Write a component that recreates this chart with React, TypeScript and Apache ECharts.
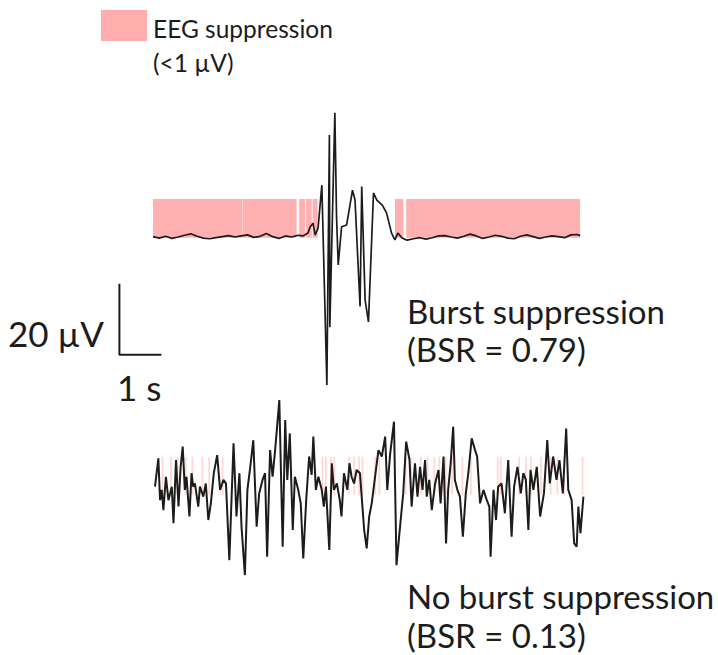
import React, { useEffect, useRef } from "react";
import * as echarts from "echarts";

// ---- Data (time in s, amplitude in µV) ----
const burstTrace: [number, number][] = [
  [0, 0.1], [0.15, -0.3], [0.3, 0.2], [0.45, -0.4], [0.6, 0.0], [0.75, 0.5], [0.9, 0.9],
  [1.05, 0.2], [1.2, -0.3], [1.35, -0.5], [1.5, -0.2], [1.65, 0.1], [1.8, 0.4], [1.95, 0.0],
  [2.1, 0.3], [2.25, 0.6], [2.4, -0.1], [2.55, 0.2], [2.7, 1.0], [2.85, 0.1], [3.0, -0.4],
  [3.15, 0.3], [3.3, 0.0], [3.45, 0.5], [3.57, 0.3],
  [3.69, 1.1], [3.74, 2.8], [3.81, 3.9], [3.86, 0.6], [3.93, 2.5], [4.02, 14.6], [4.14, -41.7],
  [4.2, 28.7], [4.21, -25.4], [4.33, 35.0], [4.37, 5.7], [4.41, -7.9], [4.49, 2.9], [4.61, 3.4],
  [4.75, 13.2], [4.81, 10.4], [4.93, -19.6], [4.97, 14.2], [5.05, -17.7], [5.13, -23.9],
  [5.25, 12.4], [5.33, 10.4], [5.46, 9.0], [5.56, 6.8], [5.68, 1.1], [5.76, -0.8], [5.83, 1.1],
  [5.93, -0.3], [6.05, -0.9], [6.2, -0.5], [6.35, -0.2], [6.5, -0.6], [6.65, -0.2], [6.8, 0.3],
  [6.95, 0.4], [7.1, 0.0], [7.25, -0.3], [7.4, 0.2], [7.55, 0.8], [7.7, 0.3], [7.85, -0.4],
  [8.0, 0.0], [8.15, 0.5], [8.3, 0.2], [8.45, -0.3], [8.6, -0.5], [8.75, 0.2], [8.9, 0.6],
  [9.05, 0.1], [9.2, -0.4], [9.35, 0.0], [9.5, 0.3], [9.65, 0.1], [9.8, -0.2], [9.95, 0.6],
  [10.1, 0.7], [10.17, 0.4],
];

const continuousTrace: [number, number][] = [
  [0, 1.5], [0.08, 9.5], [0.12, -2.3], [0.16, 0.6], [0.2, -5.1], [0.26, 4.3], [0.32, -2.3],
  [0.4, 1.5], [0.44, -8.8], [0.5, 9.0], [0.56, -4.1], [0.61, 7.1], [0.66, 12.8], [0.71, 0.6],
  [0.75, 4.3], [0.82, -6.9], [0.87, 5.3], [0.91, 1.5], [0.95, 2.4], [1.03, -4.1], [1.07, 1.5],
  [1.15, -1.3], [1.21, 2.4], [1.27, -7.9], [1.33, -3.2], [1.4, 5.3], [1.48, 10.4], [1.55, 0.6],
  [1.63, 3.4], [1.69, 2.4], [1.77, -19.2], [1.87, 13.7], [1.94, -6.9], [2.01, 5.3], [2.06, -9.8],
  [2.14, -23.4], [2.2, 0.6], [2.26, 6.2], [2.34, 14.6], [2.42, -9.8], [2.48, -0.4], [2.56, 3.4],
  [2.62, 5.3], [2.67, -18.2], [2.74, 11.8], [2.8, 4.3], [2.86, 11.8], [2.96, 25.9], [3.04, -15.4],
  [3.1, 20.3], [3.15, 3.4], [3.21, 16.5], [3.28, -10.7], [3.33, 4.3], [3.41, 0.6], [3.47, -3.2],
  [3.53, -18.7], [3.6, -2.3], [3.67, 10.0], [3.73, 4.8], [3.77, 15.6], [3.83, 0.6], [3.89, 4.3],
  [3.97, 0.6], [4.02, -4.1], [4.07, 1.5], [4.15, -16.3], [4.21, 8.1], [4.26, 0.6], [4.33, 2.4],
  [4.4, -2.3], [4.44, -6.9], [4.5, 5.3], [4.58, 0.6], [4.63, 8.1], [4.68, 4.3], [4.74, 2.4],
  [4.8, 6.2], [4.88, 5.3], [4.98, -10.7], [5.04, -15.9], [5.1, -6.9], [5.16, -3.2], [5.24, 4.3],
  [5.32, 11.8], [5.4, 10.0], [5.48, 15.6], [5.53, 0.6], [5.6, 10.9], [5.69, 19.8], [5.75, -20.6],
  [5.82, -11.6], [5.91, -0.4], [5.98, 14.2], [6.06, 9.0], [6.11, -4.1], [6.19, 8.1], [6.25, -1.3],
  [6.31, 7.1], [6.37, 0.6], [6.43, 9.0], [6.47, -1.3], [6.53, 3.4], [6.59, -5.1], [6.67, 2.4],
  [6.75, 6.2], [6.8, -3.2], [6.87, 10.0], [6.93, -14.5], [6.98, 0.6], [7.04, 8.1], [7.1, 18.4],
  [7.14, 3.4], [7.2, 0.6], [7.26, -1.3], [7.33, -12.6], [7.4, -0.4], [7.46, 5.3], [7.54, 15.1],
  [7.62, 11.8], [7.67, 10.0], [7.74, -3.2], [7.82, 0.6], [7.9, -2.3], [7.96, -4.1], [7.99, -18.2],
  [8.06, 0.6], [8.12, -7.9], [8.17, 1.5], [8.25, 2.4], [8.33, -6.0], [8.41, 9.0], [8.49, -12.6],
  [8.55, 1.5], [8.63, 7.1], [8.71, -0.4], [8.77, 5.3], [8.83, 3.4], [8.89, -10.7], [8.94, 6.2],
  [9.01, 0.6], [9.09, 7.1], [9.17, -6.9], [9.26, -0.4], [9.34, 14.6], [9.4, 2.4], [9.48, 10.0],
  [9.56, 3.4], [9.63, 9.0], [9.71, -0.4], [9.79, 17.9], [9.84, 0.6], [9.92, -2.3], [9.98, -14.5],
  [10.04, -15.4], [10.08, -4.1], [10.13, -11.6], [10.2, -1.3],
];

// suppression periods (<1 µV), [start, end] in s
const burstSuppression: [number, number][] = [
  [0, 2.12], [2.13, 3.42], [3.48, 3.62], [3.64, 3.78], [3.8, 3.92], [5.76, 5.96], [6.03, 10.17],
];
const continuousSuppressionStarts: number[] = [
  0.16, 0.36, 0.52, 0.71, 0.87, 1.11, 1.27, 1.59, 3.97, 4.05, 4.17, 4.25, 4.6, 4.72, 4.84,
  4.92, 5.22, 5.32, 5.95, 6.07, 6.31, 6.47, 6.63, 6.75, 6.9, 7.05, 7.3, 7.5, 8.14, 8.21, 8.65,
  8.81, 8.93, 9.17, 9.4, 9.56, 9.72, 10.16,
];
const stripeWidth = 0.04;
const bandRange: [number, number] = [-0.2, 10.7];
const bandRangeBottom: [number, number] = [-0.8, 9.9];

// scale bar: 20 µV and 1 s
const scaleBarPoints: [number, number][] = [[-0.8, -13.2], [-0.8, -33.2], [0.2, -33.2]];

const PINK = "#ffb0b0";
const INK = "#1c1c1c";
const FONT = "Lato, 'Open Sans', sans-serif";

export default function App() {
  const ref = useRef<HTMLDivElement>(null);
  useEffect(() => {
    document.body.style.margin = "0";
    if (!ref.current) return;
    const chart = echarts.init(ref.current, null, { renderer: "svg" });
    const pxPerS = 42;
    const pxPerUV = 3.55;

    const topMarks = burstSuppression.map(([a, b]) => [
      { xAxis: a, yAxis: bandRange[0] },
      { xAxis: b, yAxis: bandRange[1] },
    ]);
    const bottomMarks = continuousSuppressionStarts.map((a) => [
      { xAxis: a, yAxis: bandRangeBottom[0] },
      { xAxis: a + stripeWidth, yAxis: bandRangeBottom[1] },
    ]);

    const topX = [-1, 10.5];
    const topY = [-45, 40];
    const botX = [0, 10.2];
    const botY = [-25, 27];

    const text = (x: number, y: number, t: string, size: number, align = "left") => ({
      type: "text",
      x,
      y,
      style: {
        text: t,
        fill: INK,
        font: `${size}px ${FONT}`,
        textAlign: align,
        textVerticalAlign: "middle",
      },
    });

    chart.setOption({
      animation: false,
      backgroundColor: "#ffffff",
      grid: [
        {
          left: 153 + topX[0] * pxPerS,
          width: (topX[1] - topX[0]) * pxPerS,
          top: 237 - topY[1] * pxPerUV,
          height: (topY[1] - topY[0]) * pxPerUV,
        },
        {
          left: 155,
          width: (botX[1] - botX[0]) * pxPerS,
          top: 492 - botY[1] * pxPerUV,
          height: (botY[1] - botY[0]) * pxPerUV,
        },
      ],
      xAxis: [
        { type: "value", gridIndex: 0, min: topX[0], max: topX[1], show: false },
        { type: "value", gridIndex: 1, min: botX[0], max: botX[1], show: false },
      ],
      yAxis: [
        { type: "value", gridIndex: 0, min: topY[0], max: topY[1], show: false },
        { type: "value", gridIndex: 1, min: botY[0], max: botY[1], show: false },
      ],
      series: [
        {
          type: "line",
          name: "Burst suppression",
          xAxisIndex: 0,
          yAxisIndex: 0,
          data: burstTrace,
          symbol: "none",
          lineStyle: { color: INK, width: 1.7 },
          markArea: { silent: true, itemStyle: { color: PINK }, data: topMarks },
        },
        {
          type: "line",
          name: "No burst suppression",
          xAxisIndex: 1,
          yAxisIndex: 1,
          data: continuousTrace,
          symbol: "none",
          lineStyle: { color: INK, width: 2 },
          markArea: {
            silent: true,
            itemStyle: { color: "rgba(255,150,150,0.4)" },
            data: bottomMarks,
          },
        },
        {
          type: "line",
          name: "scale",
          xAxisIndex: 0,
          yAxisIndex: 0,
          data: scaleBarPoints,
          symbol: "none",
          lineStyle: { color: INK, width: 2 },
        },
      ],
      graphic: [
        { type: "rect", shape: { x: 101, y: 10, width: 46, height: 31 }, style: { fill: "#ffadad" } },
        text(153, 28, "EEG suppression", 24.5),
        text(153, 62, "(<1 µV)", 24.5),
        text(104, 333, "20 µV", 35, "right"),
        text(117, 387, "1 s", 35),
        text(407, 311, "Burst suppression", 33),
        text(407, 349, "(BSR = 0.79)", 33),
        text(407, 596, "No burst suppression", 33),
        text(407, 635, "(BSR = 0.13)", 33),
      ],
    });
    return () => chart.dispose();
  }, []);
  return <div ref={ref} style={{ width: 718, height: 655 }} />;
}
